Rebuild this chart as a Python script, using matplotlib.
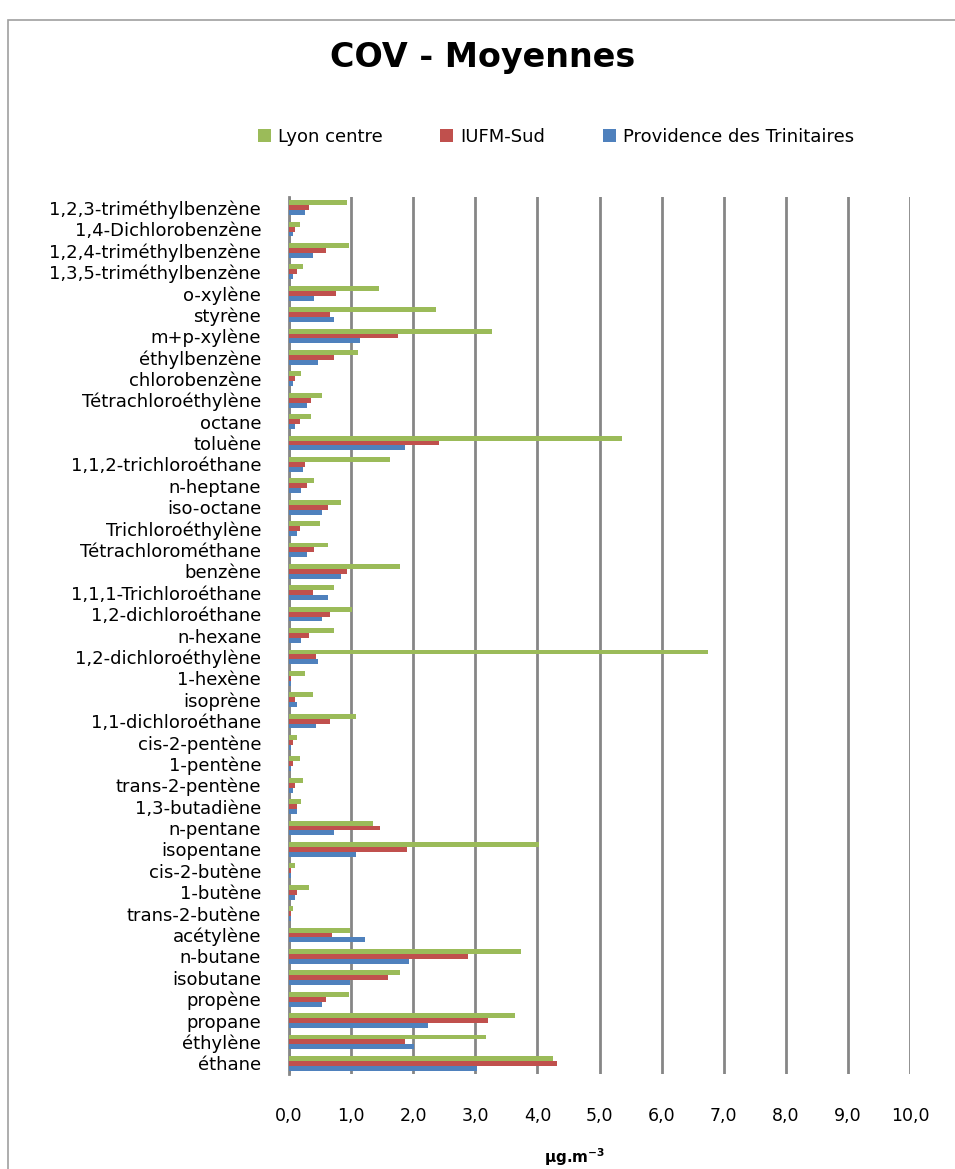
import numpy as np
import matplotlib
matplotlib.use("Agg")
import matplotlib.pyplot as plt
from matplotlib.patches import Rectangle

# categories listed from bottom (éthane) to top
categories = ["éthane", "éthylène", "propane", "propène", "isobutane", "n-butane",
              "acétylène", "trans-2-butène", "1-butène", "cis-2-butène", "isopentane",
              "n-pentane", "1,3-butadiène", "trans-2-pentène", "1-pentène", "cis-2-pentène",
              "1,1-dichloroéthane", "isoprène", "1-hexène", "1,2-dichloroéthylène",
              "n-hexane", "1,2-dichloroéthane", "1,1,1-Trichloroéthane", "benzène",
              "Tétrachlorométhane", "Trichloroéthylène", "iso-octane", "n-heptane",
              "1,1,2-trichloroéthane", "toluène", "octane", "Tétrachloroéthylène",
              "chlorobenzène", "éthylbenzène", "m+p-xylène", "styrène", "o-xylène",
              "1,3,5-triméthylbenzène", "1,2,4-triméthylbenzène", "1,4-Dichlorobenzène",
              "1,2,3-triméthylbenzène"]

lyon = [4.25, 3.18, 3.64, 0.96, 1.78, 3.73, 0.98, 0.07, 0.32, 0.10, 4.03,
        1.35, 0.19, 0.23, 0.17, 0.13, 1.08, 0.38, 0.26, 6.74,
        0.72, 1.02, 0.72, 1.78, 0.62, 0.50, 0.84, 0.41,
        1.63, 5.37, 0.35, 0.53, 0.19, 1.11, 3.27, 2.36, 1.45,
        0.23, 0.96, 0.17, 0.93]
iufm = [4.31, 1.87, 3.21, 0.59, 1.60, 2.88, 0.69, 0.04, 0.13, 0.04, 1.90,
        1.47, 0.13, 0.10, 0.07, 0.07, 0.66, 0.10, 0.04, 0.44,
        0.32, 0.66, 0.38, 0.93, 0.41, 0.17, 0.62, 0.29,
        0.26, 2.42, 0.17, 0.35, 0.10, 0.72, 1.75, 0.66, 0.75,
        0.13, 0.59, 0.10, 0.32]
providence = [3.03, 2.02, 2.24, 0.53, 0.98, 1.93, 1.23, 0.03, 0.10, 0.03, 1.08,
              0.72, 0.13, 0.07, 0.04, 0.04, 0.44, 0.13, 0.04, 0.47,
              0.19, 0.53, 0.62, 0.84, 0.29, 0.13, 0.53, 0.19,
              0.23, 1.87, 0.10, 0.29, 0.07, 0.47, 1.14, 0.72, 0.41,
              0.07, 0.38, 0.07, 0.26]

xticks = np.arange(0, 11, 1)

green, red, blue = "#9BBB59", "#C0504D", "#4F81BD"

fig = plt.figure(figsize=(9.55, 11.69), dpi=100)
fig.patches.append(Rectangle((8 / 955, -0.1), 1.2, 1 - 20 / 1169 + 0.1,
                             transform=fig.transFigure, fill=False,
                             edgecolor="#A0A0A0", linewidth=1.2))

ax = fig.add_axes([289 / 955, 1 - 1074 / 1169, 621 / 955, 877 / 1169])

y = np.arange(len(categories))
h = 0.23
ax.barh(y - h, providence, height=h, color=blue, label="Providence des Trinitaires", zorder=3)
ax.barh(y, iufm, height=h, color=red, label="IUFM-Sud", zorder=3)
ax.barh(y + h, lyon, height=h, color=green, label="Lyon centre", zorder=3)

ax.set_xlim(0, 10)
ax.set_ylim(-0.5, len(categories) - 0.5)
ax.set_yticks(y)
ax.set_yticklabels(categories, fontsize=13)
ax.set_xticks(xticks)
ax.set_xticklabels([f"{v:.1f}".replace(".", ",") for v in xticks], fontsize=12.5)
ax.tick_params(axis="x", length=0, pad=24)
ax.tick_params(axis="y", length=0, pad=20)
ax.grid(axis="x", color="#868686", linewidth=2, zorder=1)
for side in ["top", "right", "bottom"]:
    ax.spines[side].set_visible(False)
ax.spines["left"].set_color("#868686")
ax.spines["left"].set_linewidth(2)

handles, labels = ax.get_legend_handles_labels()
fig.legend(handles[::-1], labels[::-1], loc="center", ncol=3,
           bbox_to_anchor=(556 / 955, 1 - 137 / 1169), frameon=False,
           fontsize=13, handlelength=0.7, handleheight=0.7,
           handletextpad=0.4, columnspacing=3.2)

fig.text(483 / 955, 1 - 57 / 1169, "COV - Moyennes", ha="center", va="center",
         fontsize=24, fontweight="bold")
fig.text(575 / 955, 1 - 1157 / 1169, "µg.m$^{\\mathbf{-3}}$", ha="center", va="center",
         fontsize=11, fontweight="bold")

fig.savefig("out.png", dpi=100)
